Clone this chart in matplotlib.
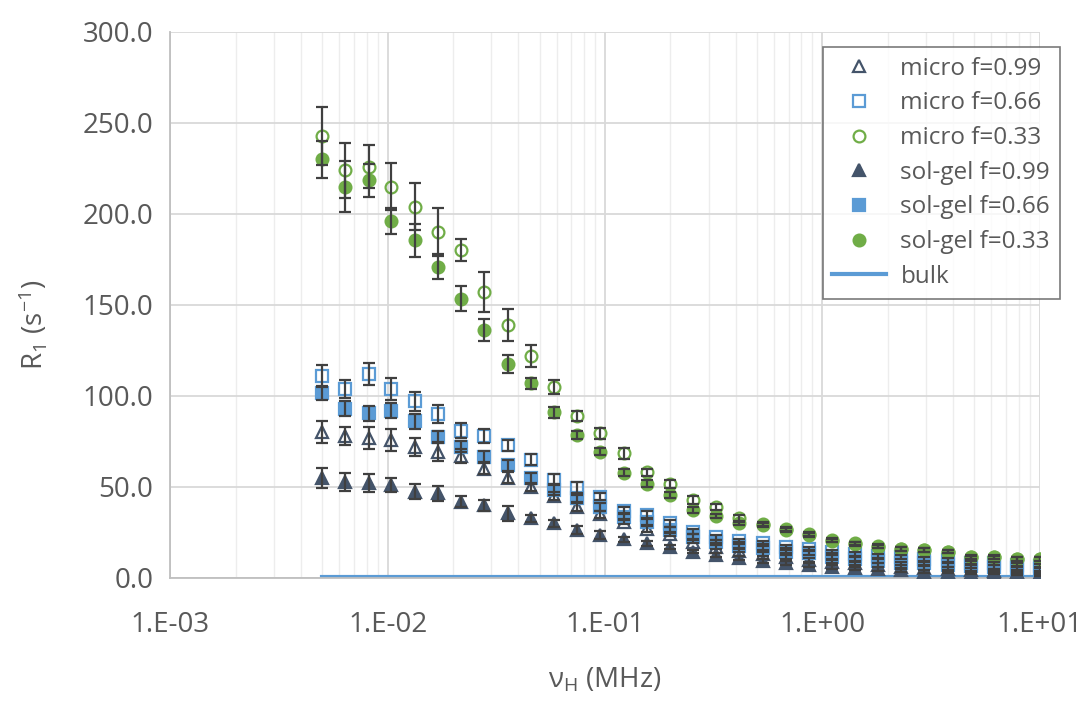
import math
import matplotlib
matplotlib.use('Agg')
import matplotlib.pyplot as plt
from matplotlib.ticker import FixedLocator, FuncFormatter, LogLocator, NullFormatter

plt.rcParams['font.family'] = ['Open Sans', 'DejaVu Sans']
plt.rcParams['mathtext.default'] = 'regular'

# ── data ──
freq = [0.005, 0.0064, 0.0082, 0.0104, 0.0134, 0.0171, 0.0218, 0.0279,
        0.0357, 0.0456, 0.0583, 0.0745, 0.0952, 0.122, 0.156, 0.199,
        0.254, 0.325, 0.415, 0.531, 0.678, 0.866, 1.11, 1.41,
        1.81, 2.31, 2.95, 3.77, 4.82, 6.16, 7.87, 10.0]

micro_099 = [80, 78, 77, 76, 72, 69, 67, 60, 55, 50, 45, 39, 35, 31, 27, 24,
             20, 17, 15, 13, 11.5, 10, 9, 8, 7, 6, 5.5, 5, 4.5, 4, 3.5, 3]
micro_099_err = [6, 5, 6, 6, 5, 5, 4, 3, 3, 2, 2, 2, 2, 1.5, 1.5, 1,
                 1, 1, 1, 1, 1, 1, 1, 1, 1, 1, 1, 1, 1, 1, 1, 1]
micro_066 = [111, 104, 112, 104, 97, 90, 81, 78, 73, 65, 54, 49.5, 44.7, 37, 34.6, 30,
             25.5, 22.3, 20.5, 19.4, 17.2, 16.1, 14.5, 13.2, 12.1, 11.4, 10.3, 10, 8.4, 8, 7.1, 6.6]
micro_066_err = [6, 5, 6, 6, 5, 5, 4, 4, 3, 3, 3, 3, 2, 2, 2, 2,
                 1.5, 1.5, 1, 1, 1, 1, 1, 1, 1, 1, 1, 1, 1, 1, 1, 1]
micro_033 = [243, 224, 226, 215, 204, 190, 180, 157, 139, 122, 105, 89, 79.5, 68.6, 58, 51.6,
             42.9, 39, 33, 29.5, 27, 24, 21, 19, 17.5, 16, 15.5, 14.5, 11.5, 11.5, 10.5, 10.5]
micro_033_err = [16, 15, 12, 13, 13, 13, 6, 11, 9, 6, 4, 3, 3, 3, 2, 2,
                 2, 1.5, 1.5, 1, 1, 1, 1, 1, 1, 1, 1, 1, 1, 1, 1, 1]

solgel_099 = [54.8, 52.9, 52, 51, 47.4, 46.5, 42, 40, 35.5, 32.8, 30, 26.4, 23.6, 21.2, 19, 16.9,
              14.5, 12.6, 10.8, 9.5, 8.4, 7.1, 6.2, 5.3, 4.8, 4.4, 3.5, 3.5, 3, 3, 2.5, 2]
solgel_099_err = [5.5, 5, 5, 4, 4, 4, 3, 3, 4, 2, 2, 2, 2, 1.5, 1.5, 1,
                  1, 1, 1, 1, 1, 1, 1, 1, 1, 1, 1, 1, 1, 1, 1, 1]
solgel_066 = [101.5, 93, 90.5, 92, 86, 77.6, 72, 66.7, 62, 54.8, 48.4, 43.8, 39, 33.7, 31, 26.4,
              22.7, 20, 17.6, 16.3, 14.5, 13.6, 11.4, 10.3, 9.5, 8, 8, 7, 6.6, 6, 5.5, 5]
solgel_066_err = [4, 4, 4, 4, 4, 3, 3, 3, 3, 3, 3, 2, 2, 2, 2, 1.5,
                  1.5, 1, 1, 1, 1, 1, 1, 1, 1, 1, 1, 1, 1, 1, 1, 1]
solgel_033 = [230, 215, 218.5, 196, 185.5, 171, 153.5, 136, 117.5, 107, 91, 78.6, 69.4, 57.8, 51.8, 45.7,
              37.4, 33.9, 30, 29, 26.4, 23.6, 20.5, 18.7, 17.2, 15.8, 15.4, 14.5, 11.3, 11.3, 10.3, 10.3]
solgel_033_err = [10, 14, 9, 7, 9, 7, 7, 6, 5, 3, 3, 2, 2, 2, 2, 1.5,
                  1.5, 1, 1, 1, 1, 1, 1, 1, 1, 1, 1, 1, 1, 1, 1, 1]

bulk = [0.4] * len(freq)

NAVY = '#44546A'
BLUE = '#5B9BD5'
GREEN = '#70AD47'
ERR = '#404040'
TEXT = '#595959'

fig = plt.figure(figsize=(10.91, 7.01), dpi=100)
ax = fig.add_axes([0.156, 0.1755, 0.797, 0.779])

series = [
    ('micro f=0.99', micro_099, micro_099_err, '^', NAVY, False),
    ('micro f=0.66', micro_066, micro_066_err, 's', BLUE, False),
    ('micro f=0.33', micro_033, micro_033_err, 'o', GREEN, False),
    ('sol-gel f=0.99', solgel_099, solgel_099_err, '^', NAVY, True),
    ('sol-gel f=0.66', solgel_066, solgel_066_err, 's', BLUE, True),
    ('sol-gel f=0.33', solgel_033, solgel_033_err, 'o', GREEN, True),
]

handles = []
for label, vals, err, mk, col, filled in series:
    ax.errorbar(freq, vals, yerr=err, fmt='none', ecolor=ERR, elinewidth=1.6,
                capsize=4.5, capthick=1.6, zorder=4)
    h = ax.plot(freq, vals, linestyle='none', marker=mk, markersize=8.5,
                markeredgewidth=1.6, markeredgecolor=col,
                markerfacecolor=col if filled else 'none', label=label, zorder=3)[0]
    handles.append(h)

hb = ax.plot(freq, bulk, color=BLUE, linewidth=3, label='bulk', zorder=2)[0]
handles.append(hb)

ax.set_xscale('log')
ax.set_xlim(1e-3, 1e1)
ax.set_ylim(0, 300)
ax.set_yticks([0, 50, 100, 150, 200, 250, 300])
ax.yaxis.set_major_formatter(FuncFormatter(lambda v, p: f'{v:.1f}'))
ax.xaxis.set_major_locator(FixedLocator([1e-3, 1e-2, 1e-1, 1e0, 1e1]))
ax.xaxis.set_major_formatter(FuncFormatter(
    lambda v, p: '1.E{:+03d}'.format(int(round(math.log10(v))))))
ax.xaxis.set_minor_locator(LogLocator(base=10, subs=range(2, 10)))
ax.xaxis.set_minor_formatter(NullFormatter())

ax.grid(True, which='major', color='#D9D9D9', linewidth=1.3)
ax.grid(True, which='minor', axis='x', color='#EDEDED', linewidth=1.0)
ax.set_axisbelow(True)
ax.tick_params(which='both', length=0, labelsize=20, labelcolor=TEXT)
ax.tick_params(axis='x', pad=24)
ax.tick_params(axis='y', pad=12)

for s in ['top', 'right']:
    ax.spines[s].set_visible(False)
for s in ['left', 'bottom']:
    ax.spines[s].set_color('#BFBFBF')
    ax.spines[s].set_linewidth(1.3)

ax.set_xlabel('ν$_{H}$ (MHz)', fontsize=20, color=TEXT, va='center')
ax.xaxis.set_label_coords(0.5, (578 - 680) / 546)
ax.set_ylabel('R$_{1}$ (s$^{-1}$)', fontsize=20, color=TEXT, va='center')
ax.yaxis.set_label_coords((33 - 170) / 870, (578 - 325) / 546)

leg = fig.legend(handles=handles, loc='upper left', bbox_to_anchor=(0.754, 0.933),
                 fontsize=17.5, frameon=True, fancybox=False, borderpad=0.4,
                 labelspacing=0.44, handlelength=2.2, handletextpad=0.6,
                 borderaxespad=0)
leg.get_frame().set_edgecolor('#595959')
leg.get_frame().set_linewidth(1.2)
for t in leg.get_texts():
    t.set_color(TEXT)

fig.savefig('out.png', dpi=100)
